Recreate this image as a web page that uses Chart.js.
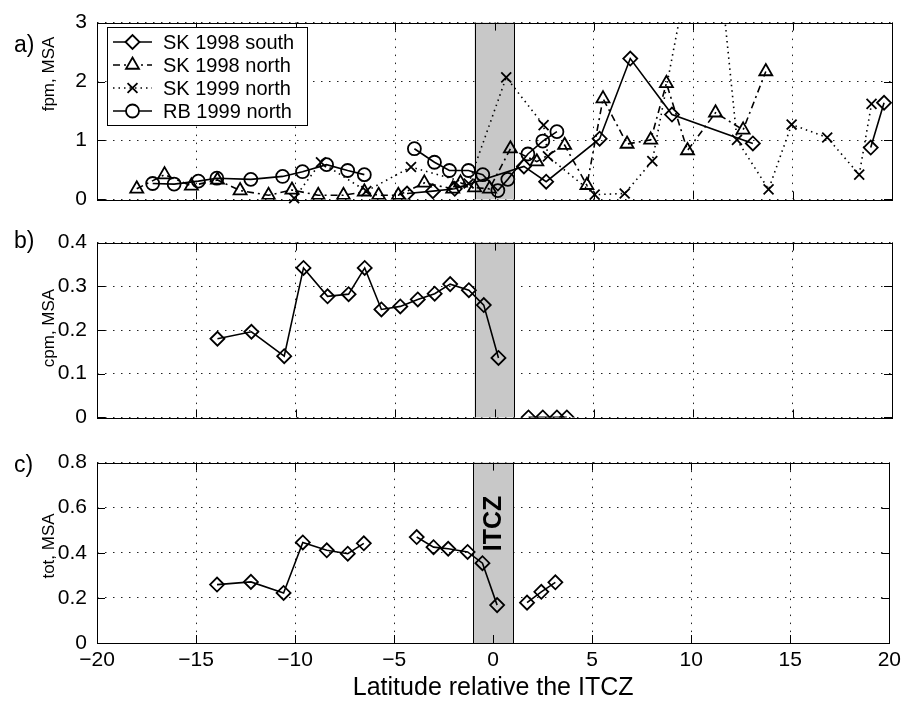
<!DOCTYPE html>
<html>
<head>
<meta charset="utf-8">
<script src="https://cdn.jsdelivr.net/npm/chart.js@4.4.0/dist/chart.umd.min.js"></script>
<style>
  body { margin: 0; background: #fff; width: 906px; height: 701px; position: relative; overflow: hidden;
         font-family: "Liberation Sans", Arial, Helvetica, sans-serif; }
  .panel { position: absolute; left: 0; }
  .tag { position: absolute; left: 14px; font-size: 23px; line-height: 1; color: #000; }
</style>
</head>
<body>
<div class="panel" style="top:0px"><canvas id="fpm" width="906" height="222"></canvas></div>
<div class="panel" style="top:220px"><canvas id="cpm" width="906" height="220"></canvas></div>
<div class="panel" style="top:440px"><canvas id="tot" width="906" height="261"></canvas></div>
<div class="tag" style="top:33px">a)</div>
<div class="tag" style="top:229px">b)</div>
<div class="tag" style="top:453px">c)</div>
<script>
// ---- data ----
var latTicks = [-20, -15, -10, -5, 0, 5, 10, 15, 20];
var itczBand = [-1, 1];

// a) fpm, MSA  (null = break in the line)
var latSouth98A = [-4.4, -3.1, -2.0, 1.48, 2.6, 5.29, 6.83, 8.93, 13.0, 16.0, 18.93, 19.6];
var fpmSouth98  = [0.10, 0.14, 0.18, 0.56, 0.30, 1.03, 2.39, 1.44, 0.95, null, 0.88, 1.64];

var latNorth98A = [-18.0, -16.6, -15.25, -13.94, -12.8, -11.37, -10.19, -8.87, -7.6, -6.55, -5.83, -4.84,
                   -3.53, -2.1, -1.71, -1.0, -0.25, 0.8, 2.13, 3.53, 4.65, 5.46, 6.67, 7.86, 8.65, 9.71,
                   11.12, 12.51, 13.65];
var fpmNorth98  = [0.18, 0.42, 0.23, 0.33, 0.15, 0.07, 0.16, 0.07, 0.07, 0.13, 0.07, 0.07,
                   0.28, 0.18, 0.28, 0.20, 0.18, 0.86, 0.64, 0.92, 0.24, 1.71, 0.94, 1.01, 1.97, 0.83,
                   1.47, 1.18, 2.17];

var latNorth99A = [-10.08, -8.73, -6.45, -4.2, -1.3, 0.59, 2.47, 2.69, 5.04, 6.55, 7.94, 10.8, 12.2,
                   13.79, 14.95, 16.74, 18.35, 18.97];
var fpmNorth99  = [0.02, 0.63, 0.14, 0.55, 0.27, 2.07, 1.26, 0.73, 0.08, 0.10, 0.65, 5.7, 1.01,
                   0.17, 1.27, 1.05, 0.42, 1.62];

var latRB99A = [-17.2, -16.12, -14.9, -13.97, -12.26, -10.66, -9.66, -8.45, -7.39, -6.55, -5.3,
                -4.03, -3.02, -2.27, -1.31, -0.59, 0.17, 0.67, 1.68, 2.43, 3.14];
var fpmRB99  = [0.27, 0.26, 0.31, 0.36, 0.34, 0.39, 0.47, 0.59, 0.49, 0.42, null,
                0.86, 0.63, 0.49, 0.49, 0.42, 0.15, 0.34, 0.77, 0.99, 1.15];

// b) cpm, MSA
var latSouth98B = [-13.94, -12.23, -10.58, -9.61, -8.40, -7.34, -6.53, -5.69, -4.74, -3.86, -3.01,
                   -2.23, -1.29, -0.54, 0.20, 1.0, 1.71, 2.43, 3.14, 3.64];
var cpmSouth98  = [0.180, 0.196, 0.140, 0.342, 0.277, 0.282, 0.342, 0.247, 0.254, 0.270, 0.283,
                   0.305, 0.291, 0.257, 0.136, null, 0, 0, 0, 0];

// c) tot, MSA
var latSouth98C = [-13.94, -12.23, -10.58, -9.61, -8.40, -7.34, -6.53, -5.2, -3.86, -3.01, -2.27,
                   -1.29, -0.54, 0.20, 1.0, 1.71, 2.43, 3.14];
var totSouth98  = [0.259, 0.271, 0.222, 0.446, 0.411, 0.396, 0.442, null, 0.470, 0.425, 0.418,
                   0.404, 0.354, 0.168, null, 0.179, 0.227, 0.269];

Chart.defaults.font.family = '"Liberation Sans", Arial, Helvetica, sans-serif';
Chart.defaults.color = '#000';
Chart.defaults.animation = false;

var looks = {
  south98: { label: 'SK 1998 south', pointStyle: 'rectRot',  radius: 7,   dash: [] },
  north98: { label: 'SK 1998 north', pointStyle: 'triangle', radius: 7.5, dash: [7, 4, 2, 4] },
  north99: { label: 'SK 1999 north', pointStyle: 'crossRot', radius: 7,   dash: [1.5, 4] },
  rb99:    { label: 'RB 1999 north', pointStyle: 'circle',   radius: 6.5, dash: [] }
};

function pts(xs, ys) {
  return xs.map(function (x, i) { return { x: x, y: ys[i] }; });
}

function series(look, xs, ys) {
  return {
    label: look.label,
    data: pts(xs, ys),
    borderColor: '#000',
    borderWidth: 1.6,
    borderDash: look.dash,
    pointStyle: look.pointStyle,
    pointRadius: look.radius,
    pointBorderWidth: 1.8,
    pointBorderColor: '#000',
    pointBackgroundColor: 'rgba(0,0,0,0)',
    fill: false,
    tension: 0,
    spanGaps: false
  };
}

// grey ITCZ band, MATLAB style box with inward ticks, y title, legend and ITCZ text
var matlabAxes = {
  id: 'matlabAxes',
  beforeDatasetsDraw: function (chart) {
    var ctx = chart.ctx, a = chart.chartArea, x = chart.scales.x;
    var x0 = x.getPixelForValue(itczBand[0]), x1 = x.getPixelForValue(itczBand[1]);
    ctx.save();
    ctx.fillStyle = '#c8c8c8';
    ctx.fillRect(x0, a.top, x1 - x0, a.bottom - a.top);
    ctx.strokeStyle = '#000';
    ctx.lineWidth = 1;
    ctx.beginPath();
    ctx.moveTo(Math.round(x0) + 0.5, a.top); ctx.lineTo(Math.round(x0) + 0.5, a.bottom);
    ctx.moveTo(Math.round(x1) + 0.5, a.top); ctx.lineTo(Math.round(x1) + 0.5, a.bottom);
    ctx.stroke();
    ctx.restore();
  },
  afterDraw: function (chart, args, opts) {
    var ctx = chart.ctx, a = chart.chartArea;
    var xs = chart.scales.x, ys = chart.scales.y;
    ctx.save();
    ctx.strokeStyle = '#000';
    ctx.lineWidth = 1;
    ctx.setLineDash([]);
    ctx.strokeRect(Math.round(a.left) + 0.5, Math.round(a.top) + 0.5,
                   Math.round(a.right - a.left), Math.round(a.bottom - a.top));
    ctx.beginPath();
    xs.ticks.forEach(function (t) {
      var p = Math.round(xs.getPixelForValue(t.value)) + 0.5;
      ctx.moveTo(p, a.bottom); ctx.lineTo(p, a.bottom - 8);
      ctx.moveTo(p, a.top); ctx.lineTo(p, a.top + 8);
    });
    ys.ticks.forEach(function (t) {
      var p = Math.round(ys.getPixelForValue(t.value)) + 0.5;
      ctx.moveTo(a.left, p); ctx.lineTo(a.left + 8, p);
      ctx.moveTo(a.right, p); ctx.lineTo(a.right - 8, p);
    });
    ctx.stroke();

    ctx.fillStyle = '#000';
    ctx.textAlign = 'center';
    ctx.textBaseline = 'middle';
    if (opts.yTitle) {
      ctx.save();
      ctx.translate(49, opts.yTitleY);
      ctx.rotate(-Math.PI / 2);
      ctx.font = '17px "Liberation Sans", Arial, sans-serif';
      ctx.fillText(opts.yTitle, 0, 0);
      ctx.restore();
    }

    if (opts.itcz) {
      var cx = (xs.getPixelForValue(itczBand[0]) + xs.getPixelForValue(itczBand[1])) / 2;
      var cy = ys.getPixelForValue(opts.itcz);
      ctx.save();
      ctx.translate(cx, cy);
      ctx.rotate(-Math.PI / 2);
      ctx.font = 'bold 25px "Liberation Sans", Arial, sans-serif';
      ctx.fillText('ITCZ', 0, 1);
      ctx.restore();
    }

    if (opts.legend) {
      var bx = 107, by = 27, bw = 200, bh = 98;
      ctx.fillStyle = '#fff';
      ctx.fillRect(bx, by, bw, bh);
      ctx.strokeRect(bx + 0.5, by + 0.5, bw, bh);
      ctx.font = '20px "Liberation Sans", Arial, sans-serif';
      ctx.textAlign = 'left';
      chart.data.datasets.forEach(function (d, i) {
        var ry = by + 15 + i * 23;
        ctx.strokeStyle = '#000';
        ctx.lineWidth = 1.6;
        ctx.setLineDash(d.borderDash || []);
        ctx.beginPath();
        ctx.moveTo(113, ry); ctx.lineTo(152, ry);
        ctx.stroke();
        ctx.setLineDash([]);
        if (Chart.helpers && Chart.helpers.drawPoint) {
          ctx.fillStyle = '#fff';
          ctx.lineWidth = 1.8;
          Chart.helpers.drawPoint(ctx, { pointStyle: d.pointStyle, radius: d.pointRadius,
                                         borderWidth: 1.8, rotation: 0 }, 132.5, ry);
        }
        ctx.fillStyle = '#000';
        ctx.fillText(d.label, 163, ry + 1);
      });
    }
    ctx.restore();
  }
};

function minus(v) {
  return v < 0 ? '\u2212' + Math.abs(v) : String(v);
}

function panel(id, datasets, yMax, yStep, padTop, xHeight, withLabels, extra) {
  return new Chart(document.getElementById(id), {
    type: 'line',
    data: { datasets: datasets },
    plugins: [matlabAxes],
    options: {
      responsive: false,
      devicePixelRatio: 1,
      layout: { padding: { top: padTop, right: 14, left: 0, bottom: 0 } },
      plugins: {
        legend: { display: false },
        tooltip: { enabled: false },
        matlabAxes: extra
      },
      scales: {
        x: {
          type: 'linear', min: latTicks[0], max: latTicks[latTicks.length - 1],
          afterBuildTicks: function (s) { s.ticks = latTicks.map(function (v) { return { value: v }; }); },
          grid: { color: '#222', lineWidth: 1, drawTicks: false },
          border: { display: false, dash: [1.5, 6.5] },
          ticks: { display: withLabels, padding: 5, font: { size: 21 }, callback: minus },
          title: {
            display: withLabels, text: 'Latitude relative the ITCZ',
            font: { size: 25, lineHeight: 1 }, padding: { top: 0, bottom: 0 }
          },
          afterFit: function (s) { s.height = xHeight; }
        },
        y: {
          min: 0, max: yMax,
          ticks: { stepSize: yStep, padding: 10, font: { size: 21 } },
          grid: { color: '#222', lineWidth: 1, drawTicks: false },
          border: { display: false, dash: [1.5, 6.5] },
          afterFit: function (s) { s.width = 97; }
        }
      }
    }
  });
}

var north99 = series(looks.north99, latNorth99A, fpmNorth99);
north99.clip = { left: 10, right: 10, top: 0, bottom: 10 };

panel('fpm', [
  series(looks.south98, latSouth98A, fpmSouth98),
  series(looks.north98, latNorth98A, fpmNorth98),
  north99,
  series(looks.rb99, latRB99A, fpmRB99)
], 3, 1, 18, 14, false, { legend: true, yTitle: 'fpm, MSA', yTitleY: 74 });

panel('cpm', [
  series(looks.south98, latSouth98B, cpmSouth98)
], 0.4, 0.1, 17, 14, false, { yTitle: 'cpm, MSA', yTitleY: 108 });

panel('tot', [
  series(looks.south98, latSouth98C, totSouth98)
], 0.8, 0.2, 13, 58, true, { itcz: 0.53, yTitle: 'tot, MSA', yTitleY: 106 });
</script>
</body>
</html>
